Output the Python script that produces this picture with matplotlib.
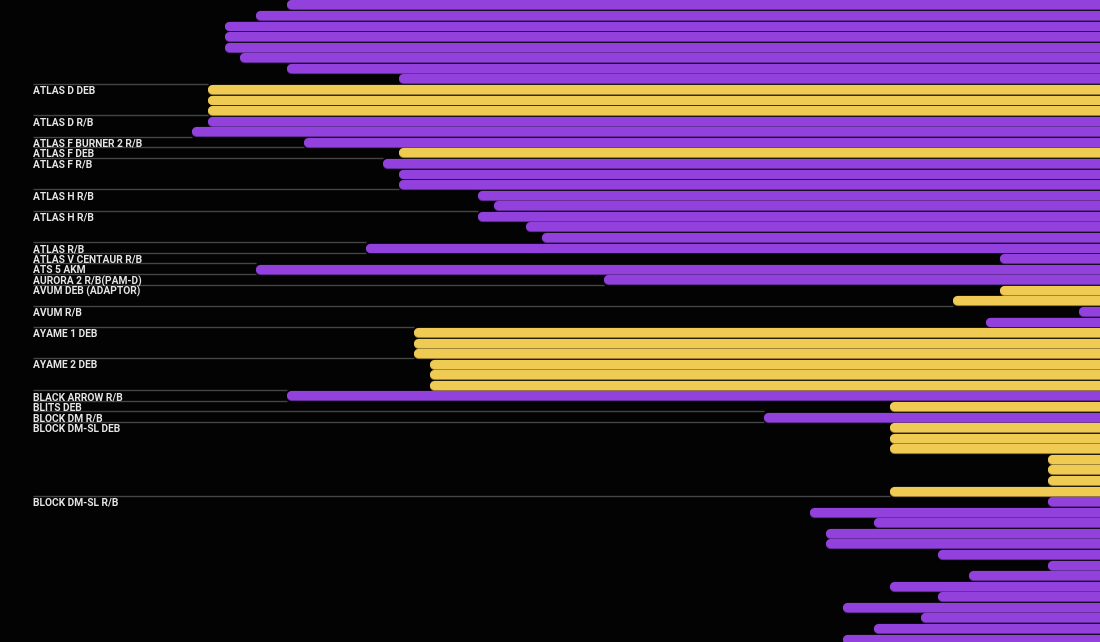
"""
Debris timeline strip: one bar per object, grouped by name.
Bars start at the object's first-seen position and run off the right edge.
"""

import matplotlib
matplotlib.use('Agg')
import matplotlib.pyplot as plt

# Group names (None = group continued from above, no label shown)
group_names = [
    None, 'ATLAS D DEB', 'ATLAS D R/B', 'ATLAS F BURNER 2 R/B', 'ATLAS F DEB',
    'ATLAS F R/B', 'ATLAS H R/B', 'ATLAS H R/B', 'ATLAS R/B',
    'ATLAS V CENTAUR R/B', 'ATS 5 AKM', 'AURORA 2 R/B(PAM-D)',
    'AVUM DEB (ADAPTOR)', 'AVUM R/B', 'AYAME 1 DEB', 'AYAME 2 DEB',
    'BLACK ARROW R/B', 'BLITS DEB', 'BLOCK DM R/B', 'BLOCK DM-SL DEB',
    'BLOCK DM-SL R/B',
]
group_sizes = [8, 3, 2, 1, 1, 3, 2, 3, 1, 1, 1, 1, 2, 2, 3, 3, 1, 1, 1, 7, 14]
group_kind = ['rb', 'deb', 'rb', 'rb', 'deb', 'rb', 'rb', 'rb', 'rb', 'rb',
              'rb', 'rb', 'deb', 'rb', 'deb', 'deb', 'rb', 'deb', 'rb',
              'deb', 'rb']

# start position of each object's bar (one per row, top to bottom)
starts = [287, 256, 225, 225, 225, 240, 287, 399,
          208, 208, 208,
          208, 192,
          304,
          399,
          383, 399, 399,
          478, 494,
          478, 526, 542,
          366,
          1000,
          256,
          604,
          1000, 953,
          1079, 986,
          414, 414, 414,
          430, 430, 430,
          287,
          890,
          764,
          890, 890, 890, 1048, 1048, 1048, 890,
          1048, 810, 874, 826, 826, 938, 1048, 969, 890, 938, 843, 921,
          874, 843]

COLORS = {'rb': '#9341dd', 'deb': '#f0cb53'}
SHADES = {'rb': '#5c2a8c', 'deb': '#8c7632'}
BG = '#030303'
X_MAX = 1100
LABEL_X = 33
ROW_PX = 10.57
DPI = 100

fig = plt.figure(figsize=(11.0, 6.42), dpi=DPI)
fig.patch.set_facecolor(BG)
ax = fig.add_axes([0, 0, 1, 1])
ax.set_facecolor(BG)

ax.set_xlim(0, X_MAX)
top = -4.4 / ROW_PX
ax.set_ylim(top + 642 / ROW_PX, top)
ax.axis('off')

bar_px = 9.2
bar_pt = bar_px * 72 / DPI
radius = bar_px / 2 - 0.8  # round cap reach, x units are ~pixels

# expand groups to per-row kinds
row_kind = []
for kind, size in zip(group_kind, group_sizes):
    row_kind += [kind] * size

# separators + labels
row = 0
for name, size in zip(group_names, group_sizes):
    if name is not None:
        end = starts[row]
        if row > 0:
            end = min(end, starts[row - 1])
        ax.plot([LABEL_X, end], [row - 0.5, row - 0.5], color='#454545',
                lw=1.0, solid_capstyle='butt', zorder=1)
        ax.text(LABEL_X, row + 0.16, name, color='#e6e6e6', fontsize=7.4,
                fontfamily='Roboto', fontweight='bold', ha='left',
                va='center', zorder=3)
    row += size

# bars: darker shadow first, then the bar itself
for i, (x0, kind) in enumerate(zip(starts, row_kind)):
    ax.plot([x0 + radius, X_MAX + 20], [i + 0.09, i + 0.09],
            color=SHADES[kind], lw=bar_pt, solid_capstyle='round', zorder=2)
    ax.plot([x0 + radius, X_MAX + 20], [i, i], color=COLORS[kind],
            lw=bar_pt, solid_capstyle='round', zorder=2)

fig.savefig('out.png', dpi=DPI, facecolor=BG)
